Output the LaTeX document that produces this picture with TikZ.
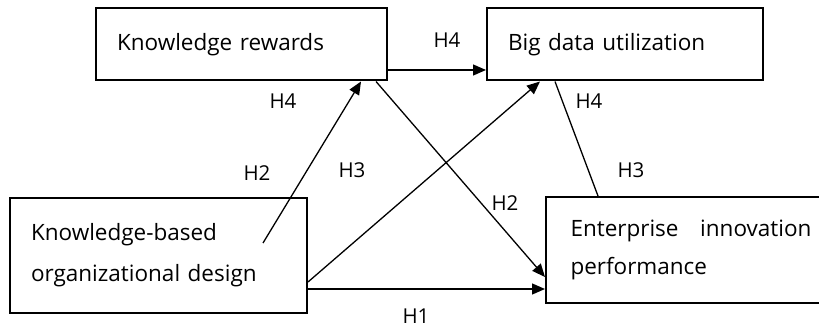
\documentclass[tikz,border=0pt]{standalone}
\usepackage{fontspec}
\setmainfont{Open Sans}
\usetikzlibrary{arrows.meta}
\begin{document}
\begin{tikzpicture}[x=1pt,y=-1pt,
  box/.style={draw,line width=2pt,rectangle,minimum height=#1,inner ysep=0pt,inner xsep=21pt,align=left},
  conn/.style={line width=1.3pt},
  arr/.style={conn,-{Triangle[length=13pt,width=11pt]}},
  lab/.style={font=\fontsize{20.5}{24}\selectfont,inner sep=0pt},
  every node/.style={font=\fontsize{22.5}{26}\selectfont}]
\useasboundingbox (0,0) rectangle (819,331);
\node[box=72pt,text width=249pt] (kr) at (241.5,44.5) {Knowledge rewards};
\node[box=72pt,text width=234pt] (bdu) at (625,44.5) {Big data utilization};
\node[box=115pt,text width=255pt,font=\fontsize{22.5}{41}\selectfont] (kbod) at (158.5,255.5) {Knowledge-based\\organizational design};
\node[box=106pt,text width=241pt,inner xsep=0pt,font=\fontsize{22.5}{38}\selectfont,minimum width=290pt] (eip) at (691,250) {\hbox to 241pt{Enterprise\hfill innovation}\\performance};
\coordinate (s2) at (263,243);
% connectors
\draw[arr] (kr.east |- 0,70) -- (bdu.west |- 0,70);
\draw[arr] (s2) -- (kr.south -| 361,0);
\draw[arr] (kr.south -| 376,0) -- (eip.west |- 0,277);
\draw[arr] (kbod.east |- 0,282) -- (bdu.south -| 540,0);
\draw[arr] (kbod.east |- 0,289) -- (eip.west |- 0,289);
\draw[conn] (bdu.south -| 555,0) -- (eip.north -| 598,0);
% labels
\node[lab] (l1) at (447,40) {H4};
\node[lab] (l2) at (283,101) {H4};
\node[lab] (l3) at (589,101) {H4};
\node[lab] (l4) at (257,173) {H2};
\node[lab] (l5) at (352,170) {H3};
\node[lab] (l6) at (631,170) {H3};
\node[lab] (l7) at (505,203) {H2};
\node[lab] (l8) at (416,316) {H1};
\end{tikzpicture}
\end{document}
